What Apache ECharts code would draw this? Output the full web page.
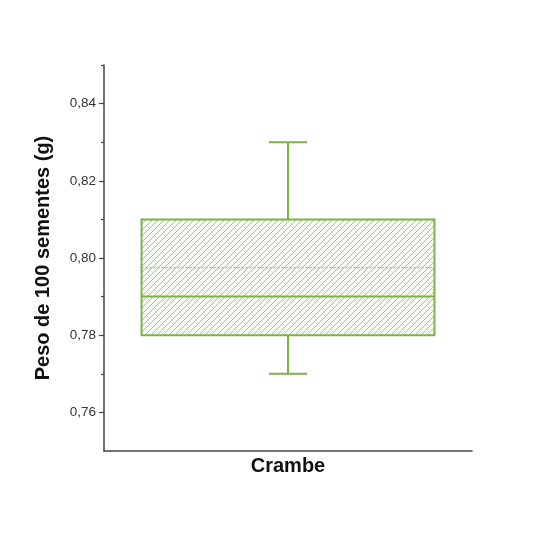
<!DOCTYPE html>
<html>
<head>
<meta charset="utf-8">
<script src="https://cdn.jsdelivr.net/npm/echarts@6/dist/echarts.min.js"></script>
<style>
  html, body { margin: 0; padding: 0; background: #ffffff; }
  #chart { width: 535px; height: 533px; }
</style>
</head>
<body>
<div id="chart"></div>
<script>
// Seed weight summary (box plot) for one crop
const categories = ['Crambe'];
const minValues = [0.77];
const q1Values = [0.78];
const medianValues = [0.79];
const q3Values = [0.81];
const maxValues = [0.83];
const meanValues = [0.7975];

// y-axis tick positions
const majorTicks = [0.76, 0.78, 0.80, 0.82, 0.84];
const minorTicks = [0.77, 0.79, 0.81, 0.83, 0.85];

const GREEN = '#79b445';
const FONT = 'Liberation Sans, Arial, sans-serif';

// diagonal hatch tile used as the box fill
function hatchPattern() {
  const s = 6;
  const c = document.createElement('canvas');
  c.width = s; c.height = s;
  const g = c.getContext('2d');
  g.fillStyle = '#f7faf3';
  g.fillRect(0, 0, s, s);
  g.strokeStyle = 'rgba(155,172,145,0.8)';
  g.lineWidth = 1;
  g.beginPath();
  g.moveTo(-1, s + 1); g.lineTo(s + 1, -1);
  g.moveTo(-1, 1); g.lineTo(1, -1);
  g.moveTo(s - 1, s + 1); g.lineTo(s + 1, s - 1);
  g.stroke();
  return c;
}
const hatch = hatchPattern();

const boxData = categories.map((c, i) => [
  i, minValues[i], q1Values[i], medianValues[i], q3Values[i], maxValues[i], meanValues[i]
]);

function renderBox(params, api) {
  const x = api.value(0);
  const band = api.size([1, 0])[0];
  const halfBox = band * 0.398;
  const halfCap = band * 0.052;
  const pMin = api.coord([x, api.value(1)]);
  const pQ1 = api.coord([x, api.value(2)]);
  const pMed = api.coord([x, api.value(3)]);
  const pQ3 = api.coord([x, api.value(4)]);
  const pMax = api.coord([x, api.value(5)]);
  const pMean = api.coord([x, api.value(6)]);
  const cx = pMed[0];
  const line = (x1, y1, x2, y2, extra) => ({
    type: 'line',
    shape: { x1, y1, x2, y2 },
    style: Object.assign({ stroke: GREEN, lineWidth: 2 }, extra || {})
  });
  return {
    type: 'group',
    children: [
      line(cx, pMax[1], cx, pQ3[1]),
      line(cx - halfCap, pMax[1], cx + halfCap, pMax[1]),
      line(cx, pQ1[1], cx, pMin[1]),
      line(cx - halfCap, pMin[1], cx + halfCap, pMin[1]),
      {
        type: 'rect',
        shape: { x: cx - halfBox, y: pQ3[1], width: halfBox * 2, height: pQ1[1] - pQ3[1] },
        style: { fill: { image: hatch, repeat: 'repeat' }, stroke: GREEN, lineWidth: 2 }
      },
      line(cx - halfBox, pMed[1], cx + halfBox, pMed[1]),
      line(cx - halfBox, pMean[1], cx + halfBox, pMean[1], { lineWidth: 1, lineDash: [2, 2], stroke: '#8cc060' })
    ]
  };
}

const fmt = v => v.toFixed(2).replace('.', ',');

const chart = echarts.init(document.getElementById('chart'), null, { renderer: 'canvas' });
chart.setOption({
  animation: false,
  backgroundColor: '#ffffff',
  grid: { left: 104, right: 63, top: 65, bottom: 82, containLabel: false },
  xAxis: {
    type: 'category',
    data: categories,
    boundaryGap: true,
    axisLine: { lineStyle: { color: '#444', width: 1.5 } },
    axisTick: { alignWithLabel: true, length: 5, lineStyle: { color: '#444', width: 1.2 } },
    axisLabel: { color: '#111', fontFamily: FONT, fontWeight: 'bold', fontSize: 20, margin: 5 },
    splitLine: { show: false }
  },
  yAxis: [
    {
      type: 'value',
      min: 0.75,
      max: 0.85,
      position: 'left',
      name: 'Peso de 100 sementes (g)',
      nameLocation: 'middle',
      nameGap: 51,
      nameRotate: 90,
      nameTextStyle: { color: '#111', fontFamily: FONT, fontWeight: 'bold', fontSize: 20 },
      axisLine: { show: true, lineStyle: { color: '#444', width: 1.5 } },
      axisTick: { show: true, length: 5, customValues: majorTicks, lineStyle: { color: '#444', width: 1.2 } },
      axisLabel: { customValues: majorTicks, formatter: fmt, color: '#333', fontFamily: FONT, fontSize: 13.5, margin: 8 },
      splitLine: { show: false }
    },
    {
      type: 'value',
      min: 0.75,
      max: 0.85,
      position: 'left',
      axisLine: { show: false },
      axisTick: { show: true, length: 3, customValues: minorTicks, lineStyle: { color: '#444', width: 1.2 } },
      axisLabel: { show: false },
      splitLine: { show: false }
    }
  ],
  series: [{
    type: 'custom',
    renderItem: renderBox,
    encode: { x: 0, y: [1, 2, 3, 4, 5, 6] },
    data: boxData,
    clip: false
  }]
});
</script>
</body>
</html>
